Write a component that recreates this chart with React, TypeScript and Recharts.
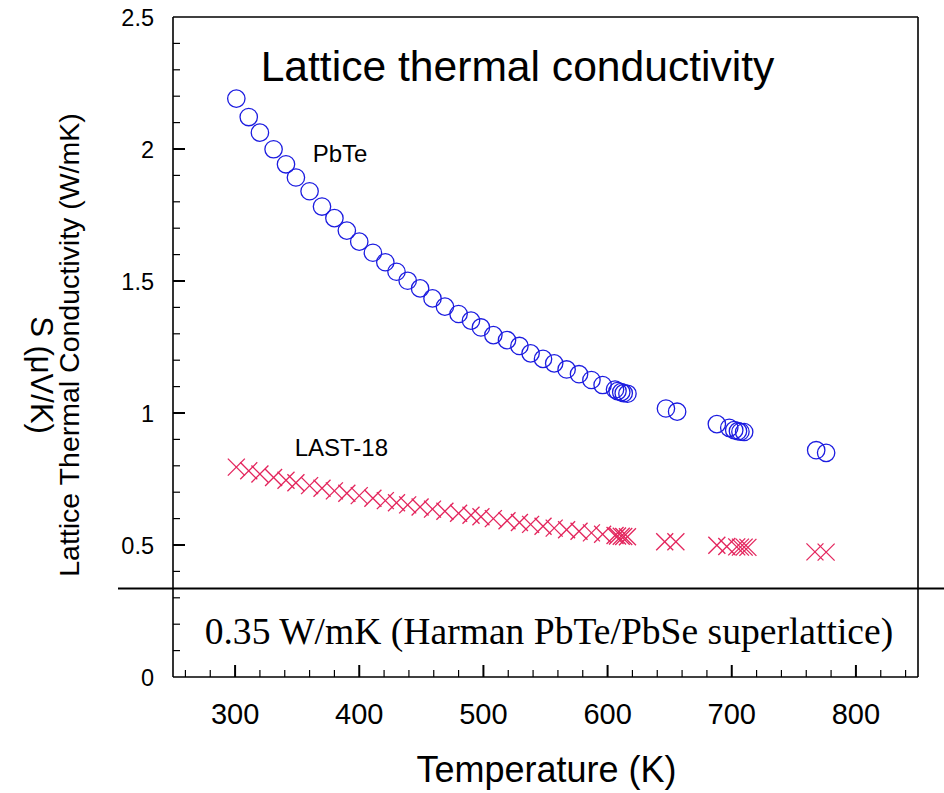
import React from "react";
import {
  ScatterChart,
  Scatter,
  XAxis,
  YAxis,
  ReferenceLine,
  ReferenceDot,
} from "recharts";

// PbTe (open circles) and LAST-18 (crosses)
const pbteTemps = [
  301, 311, 320, 331, 341, 349, 360, 370, 380, 390, 400, 411, 421, 430, 439,
  449, 459, 469, 480, 490, 498, 508, 519, 529, 538, 548, 557, 567, 577, 587,
  596, 606, 608, 611, 613, 616, 647, 656, 688, 698, 702, 705, 707, 710, 768,
  776,
];
const pbteKappa = [
  2.191, 2.121, 2.062, 1.999, 1.942, 1.892, 1.84, 1.782, 1.738, 1.691, 1.649,
  1.607, 1.571, 1.535, 1.501, 1.472, 1.434, 1.403, 1.375, 1.35, 1.324, 1.295,
  1.276, 1.254, 1.226, 1.205, 1.188, 1.165, 1.147, 1.125, 1.106, 1.089, 1.083,
  1.079, 1.075, 1.073, 1.017, 1.005, 0.958, 0.944, 0.935, 0.931, 0.929, 0.928,
  0.859, 0.849,
];
const lastTemps = [
  301, 311, 320, 331, 341, 349, 360, 370, 380, 390, 400, 411, 421, 430, 439,
  449, 459, 469, 480, 490, 498, 508, 519, 529, 538, 548, 557, 567, 577, 587,
  596, 606, 608, 611, 613, 616, 646, 655, 688, 696, 704, 707, 710, 713, 767,
  776,
];
const lastKappa = [
  0.795, 0.781, 0.769, 0.756, 0.745, 0.736, 0.725, 0.715, 0.705, 0.696, 0.687,
  0.677, 0.668, 0.66, 0.652, 0.644, 0.636, 0.628, 0.62, 0.613, 0.607, 0.6,
  0.592, 0.585, 0.578, 0.571, 0.564, 0.558, 0.552, 0.546, 0.541, 0.536, 0.534,
  0.533, 0.532, 0.531, 0.512, 0.512, 0.499, 0.494, 0.493, 0.492, 0.492, 0.491,
  0.474, 0.473,
];

const harmanKappa = 0.335;

const xMajorTicks = [300, 400, 500, 600, 700, 800];
const xTicks = [
  260, 280, 300, 320, 340, 360, 380, 400, 420, 440, 460, 480, 500, 520, 540,
  560, 580, 600, 620, 640, 660, 680, 700, 720, 740, 760, 780, 800, 820, 840,
];
const yMajorTicks = [0, 0.5, 1, 1.5, 2, 2.5];
const yTicks = [
  0, 0.1, 0.2, 0.3, 0.4, 0.5, 0.6, 0.7, 0.8, 0.9, 1, 1.1, 1.2, 1.3, 1.4, 1.5,
  1.6, 1.7, 1.8, 1.9, 2, 2.1, 2.2, 2.3, 2.4, 2.5,
];

const SANS = "'Liberation Sans', Arial, sans-serif";
const SERIF = "'Liberation Serif', 'Times New Roman', serif";
const BLUE = "#1c1ce0";
const RED = "#e3245c";

const pbteData = pbteTemps.map((t, i) => ({ t, k: pbteKappa[i] }));
const lastData = lastTemps.map((t, i) => ({ t, k: lastKappa[i] }));

const isMajor = (list: number[], v: number) =>
  list.some((m) => Math.abs(m - v) < 1e-6);

const BottomTick = (props: any) => {
  const { x, y, payload } = props;
  const major = isMajor(xMajorTicks, payload.value);
  return (
    <g>
      <line x1={x} x2={x} y1={y} y2={y - (major ? 12 : 7)} stroke="#000" strokeWidth={major ? 2 : 1.2} />
      {major && (
        <text x={x} y={y + 47} textAnchor="middle" fontSize={29} fontFamily={SANS} fill="#000">
          {payload.value}
        </text>
      )}
    </g>
  );
};

const TopTick = (props: any) => {
  const { x, y, payload } = props;
  const major = isMajor(xMajorTicks, payload.value);
  return <line x1={x} x2={x} y1={y} y2={y + (major ? 12 : 7)} stroke="#000" strokeWidth={major ? 2 : 1.2} />;
};

const LeftTick = (props: any) => {
  const { x, y, payload } = props;
  const v = payload.value;
  const major = isMajor(yMajorTicks, v);
  const edge = v === 0 || v === 2.5;
  return (
    <g>
      {!edge && (
        <line x1={x} x2={x + (major ? 12 : 7)} y1={y} y2={y} stroke="#000" strokeWidth={major ? 2 : 1.2} />
      )}
      {major && (
        <text x={x - 19} y={y + 8.5} textAnchor="end" fontSize={23.5} fontFamily={SANS} fill="#000">
          {v}
        </text>
      )}
    </g>
  );
};

const RightTick = (props: any) => {
  const { x, y, payload } = props;
  const v = payload.value;
  if (v === 0 || v === 2.5) return <g />;
  const major = isMajor(yMajorTicks, v);
  return <line x1={x} x2={x - (major ? 12 : 7)} y1={y} y2={y} stroke="#000" strokeWidth={major ? 2 : 1.2} />;
};

const CircleMark = (p: any) => (
  <circle cx={p.cx} cy={p.cy} r={8.7} fill="none" stroke={BLUE} strokeWidth={1.3} />
);

const CrossMark = (p: any) => {
  const s = 8.5;
  return (
    <g stroke={RED} strokeWidth={1.3}>
      <line x1={p.cx - s} y1={p.cy - s} x2={p.cx + s} y2={p.cy + s} />
      <line x1={p.cx - s} y1={p.cy + s} x2={p.cx + s} y2={p.cy - s} />
    </g>
  );
};

const textLabel = (text: string, size: number, family: string) => (p: any) => (
  <text x={p.viewBox.x} y={p.viewBox.y} fontSize={size} fontFamily={family} fill="#000">
    {text}
  </text>
);

const xAxisLabel = (p: any) => {
  const vb = p.viewBox;
  return (
    <text x={vb.x + vb.width / 2 + 1} y={vb.y + 105} textAnchor="middle" fontSize={36} fontFamily={SANS} fill="#000">
      Temperature (K)
    </text>
  );
};

const yAxisLabel = (p: any) => {
  const vb = p.viewBox;
  const cy = vb.y + vb.height / 2;
  return (
    <g fontFamily={SANS} fill="#000">
      <text transform={`translate(${vb.x - 34}, ${cy - 2}) rotate(-90)`} textAnchor="middle" fontSize={28.5}>
        Lattice Thermal Conductivity (W/mK)
      </text>
      <text transform={`translate(${vb.x - 82}, ${cy + 28}) rotate(90)`} textAnchor="middle" fontSize={31}>
        S (μV/K)
      </text>
    </g>
  );
};

const axisLine = { stroke: "#000", strokeWidth: 1.6 };

export default function App() {
  return (
    <div style={{ position: "absolute", left: 0, top: 0, width: 944, height: 793, background: "#fff" }}>
      <ScatterChart width={944} height={793} margin={{ top: 16, right: 25, bottom: 76, left: 113 }}>
        <XAxis
          xAxisId="bottom"
          type="number"
          dataKey="t"
          domain={[250, 850]}
          ticks={xTicks}
          interval={0}
          height={40}
          tickSize={0}
          tickMargin={0}
          tickLine={false}
          axisLine={axisLine}
          tick={BottomTick}
          label={{ content: xAxisLabel }}
        />
        <XAxis
          xAxisId="top"
          orientation="top"
          type="number"
          domain={[250, 850]}
          ticks={xTicks}
          interval={0}
          height={1}
          tickSize={0}
          tickMargin={0}
          tickLine={false}
          axisLine={axisLine}
          tick={TopTick}
        />
        <YAxis
          yAxisId="left"
          type="number"
          dataKey="k"
          domain={[0, 2.5]}
          ticks={yTicks}
          interval={0}
          width={60}
          tickSize={0}
          tickMargin={0}
          tickLine={false}
          axisLine={axisLine}
          tick={LeftTick}
          label={{ content: yAxisLabel }}
        />
        <YAxis
          yAxisId="right"
          orientation="right"
          type="number"
          domain={[0, 2.5]}
          ticks={yTicks}
          interval={0}
          width={1}
          tickSize={0}
          tickMargin={0}
          tickLine={false}
          axisLine={axisLine}
          tick={RightTick}
        />
        <ReferenceLine
          xAxisId="bottom"
          yAxisId="left"
          y={harmanKappa}
          shape={(p: any) => (
            <line x1={p.x1 - 55} x2={p.x2 + 27} y1={p.y1} y2={p.y2} stroke="#000" strokeWidth={2} />
          )}
        />
        <Scatter
          xAxisId="bottom"
          yAxisId="left"
          name="PbTe"
          data={pbteData}
          shape={CircleMark}
          isAnimationActive={false}
        />
        <Scatter
          xAxisId="bottom"
          yAxisId="left"
          name="LAST-18"
          data={lastData}
          shape={CrossMark}
          isAnimationActive={false}
        />
        <ReferenceDot xAxisId="bottom" yAxisId="left" x={320.6} y={2.259} r={0}
          label={{ content: textLabel("Lattice thermal conductivity", 42.6, SANS) }} />
        <ReferenceDot xAxisId="bottom" yAxisId="left" x={362.5} y={1.951} r={0}
          label={{ content: textLabel("PbTe", 24, SANS) }} />
        <ReferenceDot xAxisId="bottom" yAxisId="left" x={348} y={0.836} r={0}
          label={{ content: textLabel("LAST-18", 24, SANS) }} />
        <ReferenceDot xAxisId="bottom" yAxisId="left" x={275.5} y={0.124} r={0}
          label={{ content: textLabel("0.35 W/mK (Harman PbTe/PbSe superlattice)", 37.6, SERIF) }} />
      </ScatterChart>
    </div>
  );
}
